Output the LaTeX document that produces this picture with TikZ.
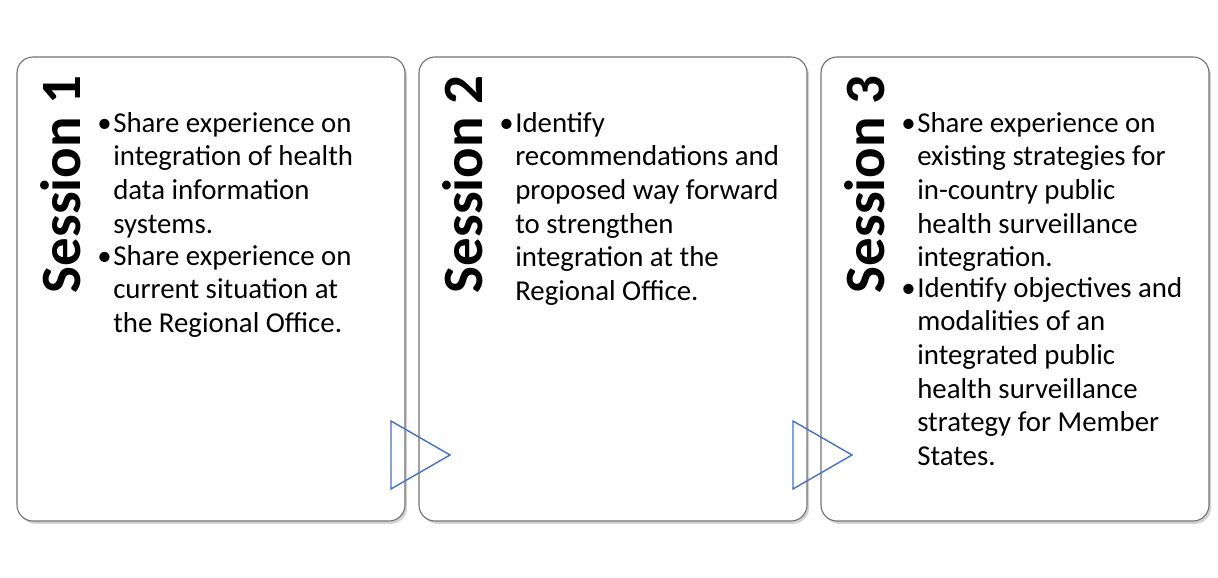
\documentclass[tikz,border=0pt]{standalone}
\usepackage{fontspec}
\setmainfont{Carlito}
\usetikzlibrary{shadows}
\definecolor{triblue}{RGB}{68,114,196}
\tikzset{
  sessbox/.style={draw=gray!90!black, line width=0.8pt, rounded corners=0.4cm, fill=white,
    drop shadow={shadow xshift=1.5pt, shadow yshift=-2pt, opacity=0.35}},
  sesstitle/.style={rotate=90, anchor=north east, font=\fontsize{40.5}{40.5}\selectfont\bfseries, inner sep=0pt},
  bul/.style={anchor=north west, inner sep=0pt, font=\fontsize{20.5}{23.9}\selectfont},
  txt/.style={anchor=north west, inner sep=0pt, align=left, font=\fontsize{20.5}{23.9}\selectfont},
  arrowtri/.style={draw=triblue, line width=1pt, line join=miter}
}
\begin{document}
\begin{tikzpicture}[x=0.025cm, y=-0.025cm]
  \useasboundingbox (0,0) rectangle (1218,578);
  % boxes
  \draw[sessbox] (17,57) rectangle (405,521);
  \draw[sessbox] (419,57) rectangle (807,521);
  \draw[sessbox] (821,57) rectangle (1209,521);
  % titles
  \node[sesstitle] (t1) at (40,75) {Session 1};
  \node[sesstitle] (t2) at (442,75) {Session 2};
  \node[sesstitle] (t3) at (844,75) {Session 3};
  % session 1
  \node[bul] (b1a) at (97,119) {\textbullet};
  \node[txt] (s1a) at (113,112) {Share experience on\\integration of health\\data information\\systems.};
  \node[bul] (b1b) at (97,252) {\textbullet};
  \node[txt] (s1b) at (113,245) {Share experience on\\current situation at\\the Regional Office.};
  % session 2
  \node[bul] (b2a) at (499,119) {\textbullet};
  \node[txt] (s2a) at (515,112) {Identify\\recommendations and\\proposed way forward\\to strengthen\\integration at the\\Regional Office.};
  % session 3
  \node[bul] (b3a) at (901,119) {\textbullet};
  \node[txt] (s3a) at (917,112) {Share experience on\\existing strategies for\\in-country public\\health surveillance\\integration.};
  \node[bul] (b3b) at (901,284) {\textbullet};
  \node[txt] (s3b) at (917,277) {Identify objectives and\\modalities of an\\integrated public\\health surveillance\\strategy for Member\\States.};
  % arrows
  \draw[arrowtri] (391,421) -- (450,455) -- (391,489) -- cycle;
  \draw[arrowtri] (793,421) -- (852,455) -- (793,489) -- cycle;
\end{tikzpicture}
\end{document}
